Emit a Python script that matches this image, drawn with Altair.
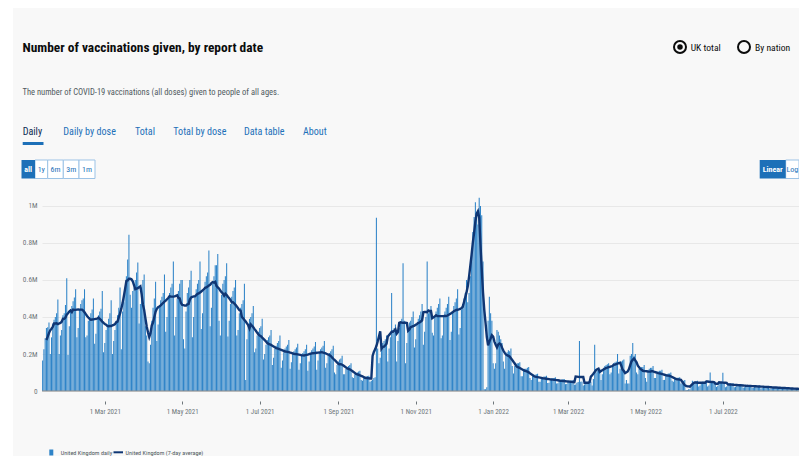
import altair as alt
import pandas as pd

# ---------------- data (daily doses, thousands, by report date) ----------------
FIRST_DAY = "2021-01-11"

doses_2021_q1 = [
    165, 225, 285, 340, 345, 370, 200,
    290, 365, 385, 400, 420, 495, 200,
    300, 330, 410, 420, 465, 610, 195,
    350, 440, 460, 485, 505, 550, 290,
    340, 440, 470, 490, 500, 550, 290,
    300, 380, 400, 420, 440, 500, 255,
    310, 385, 410, 430, 445, 540, 210,
    260, 330, 360, 390, 420, 490, 200,
    270, 330, 380, 410, 450, 560, 225,
    430, 480, 560, 620, 711, 844, 520,
    450, 540, 560, 600, 640, 695, 365,
    470, 560, 600, 630, 350, 300, 160,
]
doses_2021_q2 = [
    150, 250, 380, 450, 500, 590, 270,
    360, 450, 490, 510, 530, 630, 320,
    400, 500, 530, 560, 580, 700, 300,
    400, 500, 540, 580, 600, 600, 280,
    230, 430, 530, 560, 600, 650, 290,
    400, 510, 550, 580, 600, 700, 335,
    420, 540, 590, 620, 640, 760, 350,
    450, 580, 620, 680, 680, 740, 380,
    300, 520, 580, 600, 620, 690, 295,
    380, 470, 510, 540, 560, 600, 300,
    330, 420, 450, 470, 490, 580, 60,
    280, 360, 390, 400, 420, 460, 210,
    230, 300, 320, 340, 350, 390, 170,
]
doses_2021_q3 = [
    200, 250, 275, 290, 300, 330, 140,
    180, 230, 245, 260, 270, 300, 125,
    165, 210, 230, 240, 250, 275, 120,
    155, 200, 215, 225, 235, 255, 115,
    150, 190, 205, 215, 225, 250, 110,
    160, 200, 220, 230, 240, 265, 115,
    165, 205, 225, 235, 245, 270, 125,
    150, 190, 205, 215, 225, 245, 100,
    90, 140, 160, 170, 175, 190, 90,
    90, 120, 130, 135, 140, 150, 75,
    70, 90, 95, 100, 105, 110, 60,
    55, 70, 75, 78, 80, 82, 50,
    55, 60, 70, 75, 937, 230, 150,
]
doses_2021_q4 = [
    180, 230, 260, 270, 280, 300, 160,
    230, 290, 530, 330, 340, 360, 160,
    270, 340, 370, 390, 690, 380, 150,
    260, 340, 370, 380, 400, 430, 235,
    280, 360, 390, 410, 430, 470, 250,
    320, 400, 700, 420, 430, 460, 315,
    300, 400, 430, 450, 470, 500, 285,
    300, 400, 430, 450, 470, 510, 275,
    320, 430, 460, 480, 500, 550, 305,
    340, 440, 470, 500, 530, 600, 480,
    530, 620, 700, 860, 940, 1020, 950,
    900, 1045, 1000, 950, 700, 10, 10,
    20, 380, 510, 420, 380, 150, 120,
]
doses_2022_q1 = [
    150, 330, 320, 300, 280, 260, 160,
    120, 200, 210, 220, 215, 230, 135,
    95, 135, 145, 150, 150, 155, 80,
    80, 110, 120, 120, 125, 130, 70,
    60, 80, 85, 88, 90, 93, 50,
    50, 70, 75, 78, 78, 82, 43,
    45, 62, 68, 70, 70, 75, 40,
    42, 56, 60, 62, 63, 65, 37,
    38, 50, 55, 56, 57, 60, 34,
    35, 45, 48, 270, 50, 52, 30,
    35, 45, 48, 50, 50, 52, 30,
    65, 250, 100, 110, 115, 120, 60,
    90, 125, 135, 140, 145, 150, 90,
]
doses_2022_q2 = [
    100, 140, 150, 155, 160, 200, 95,
    120, 160, 165, 170, 40, 60, 40,
    40, 190, 200, 260, 190, 200, 100,
    90, 120, 125, 130, 130, 140, 70,
    50, 110, 120, 125, 125, 135, 70,
    70, 95, 105, 110, 110, 115, 60,
    60, 85, 90, 95, 95, 100, 55,
    50, 65, 70, 72, 72, 75, 40,
    45, 55, 60, 5, 5, 10, 10,
    30, 55, 50, 52, 52, 55, 25,
    30, 48, 50, 50, 52, 55, 25,
    30, 100, 45, 45, 47, 50, 22,
    28, 42, 43, 44, 98, 45, 20,
]
doses_2022_q3 = [
    25, 38, 40, 40, 40, 42, 20,
    22, 34, 35, 36, 36, 38, 18,
    20, 30, 31, 32, 32, 33, 16,
    18, 27, 28, 29, 29, 30, 14,
    16, 24, 25, 26, 26, 27, 12,
    14, 20, 21, 22, 22, 23, 11,
    12, 17, 18, 19, 19, 20, 9,
    10, 14, 15, 15, 16, 16, 8,
    6, 12, 13, 13, 13, 12, 14,
]

y_ticks = [0, 200000, 400000, 600000, 800000, 1000000]
x_tick_dates = [(2021, 3), (2021, 5), (2021, 7), (2021, 9), (2021, 11),
                (2022, 1), (2022, 3), (2022, 5), (2022, 7)]

daily_k = (doses_2021_q1 + doses_2021_q2 + doses_2021_q3 + doses_2021_q4
           + doses_2022_q1 + doses_2022_q2 + doses_2022_q3)
dates = pd.date_range(FIRST_DAY, periods=len(daily_k), freq="D")
df = pd.DataFrame({"date": dates.strftime("%Y-%m-%dT%H:%M:%S"),
                   "doses": [v * 1000 for v in daily_k]})
one = pd.DataFrame({"k": [0]})

# ---------------- styling ----------------
F = "Roboto Condensed, Roboto, sans-serif"
BAR = "#2f84c8"
LINE = "#0f3674"
BLUE = "#1d70b8"
TEXT = "#0b0c0c"
GREY = "#505a5f"
OX, OY = 42, 195  # page position of plot origin
W, H = 757, 196

x_scale = alt.Scale(domain=[alt.DateTime(year=2021, month=1, date=10, hours=12),
                            alt.DateTime(year=2022, month=8, date=30, hours=0)],
                    padding=0)
y_scale = alt.Scale(domain=[0, 1059459], nice=False, zero=True, padding=0)

x_axis = alt.Axis(values=[alt.DateTime(year=y, month=m, date=1) for y, m in x_tick_dates],
                  format="%-d %b %Y", labelFontSize=7, labelColor="#6f777b", labelFont=F,
                  domain=False, ticks=True, tickSize=3, tickColor="#6f777b", offset=10,
                  labelPadding=3, grid=False, labelOverlap=False, title=None)
y_axis = alt.Axis(values=y_ticks, labelExpr="datum.value == 0 ? '0' : (datum.value / 1000000) + 'M'",
                  labelFontSize=7.3, labelColor="#6f777b", labelFont=F, domain=False, ticks=False,
                  labelPadding=5, grid=True, gridColor="#e8e8e8", gridWidth=1,
                  labelOverlap=False, title=None)

bars = alt.Chart(df).mark_bar(size=1.05, color=BAR).encode(
    x=alt.X("date:T", scale=x_scale, axis=x_axis),
    y=alt.Y("doses:Q", scale=y_scale, axis=y_axis),
)
line = alt.Chart(df).transform_window(
    window=[alt.WindowFieldDef(op="mean", field="doses", **{"as": "avg"}),
            alt.WindowFieldDef(op="count", field="doses", **{"as": "n"})],
    frame=[-3, 3],
).transform_filter("datum.n == 7").mark_line(color=LINE, strokeWidth=2.4).encode(
    x=alt.X("date:T", scale=x_scale, axis=x_axis),
    y=alt.Y("avg:Q", scale=y_scale, axis=y_axis),
)
baseline = alt.Chart(one).mark_rule(color="#8b8b8b", strokeWidth=1.2).encode(
    x=alt.value(0), x2=alt.value(W), y=alt.value(H))


def txt(s, px, py, size, color=TEXT, weight="normal", align="left", base="alphabetic"):
    return alt.Chart(one).mark_text(text=s, font=F, fontSize=size, color=color,
                                    fontWeight=weight, align=align, baseline=base).encode(
        x=alt.value(px - OX), y=alt.value(py - OY))


def box(x1, x2, y1, y2, fill, stroke=None, sw=1):
    kw = dict(fill=fill)
    if stroke:
        kw.update(stroke=stroke, strokeWidth=sw)
    return alt.Chart(one).mark_rect(**kw).encode(
        x=alt.value(x1 - OX), x2=alt.value(x2 - OX), y=alt.value(y1 - OY), y2=alt.value(y2 - OY))


def dot(px, py, size, filled, sw=2):
    kw = dict(shape="circle", size=size, filled=filled, color=TEXT, opacity=1)
    if not filled:
        kw.update(strokeWidth=sw)
    return alt.Chart(one).mark_point(**kw).encode(x=alt.value(px - OX), y=alt.value(py - OY))


ui = [
    box(8, 13, 8, 470, "#ffffff"),
    txt("Number of vaccinations given, by report date", 22.5, 52, 13.4, weight="bold"),
    txt("The number of COVID-19 vaccinations (all doses) given to people of all ages.", 22.5, 95, 8.5, GREY),
    txt("Daily", 22.7, 134.5, 10.1, "#0b2a52"),
    box(22.7, 43.5, 142, 145, BLUE),
    txt("Daily by dose", 63.3, 134.5, 10.1, BLUE),
    txt("Total", 135, 134.5, 10.1, BLUE),
    txt("Total by dose", 173.3, 134.5, 10.1, BLUE),
    txt("Data table", 244, 134.5, 10.1, BLUE),
    txt("About", 303, 134.5, 10.1, BLUE),
    box(35, 47.7, 160, 178.5, "#ffffff", "#9cc3e6"),
    box(47.7, 63.3, 160, 178.5, "#ffffff", "#9cc3e6"),
    box(63.3, 79, 160, 178.5, "#ffffff", "#9cc3e6"),
    box(79, 95, 160, 178.5, "#ffffff", "#9cc3e6"),
    box(21.5, 35, 160, 178.5, BLUE),
    txt("all", 28.2, 169.5, 8, "#ffffff", "bold", "center", "middle"),
    txt("1y", 41.3, 169.5, 8, BLUE, align="center", base="middle"),
    txt("6m", 55.5, 169.5, 8, BLUE, align="center", base="middle"),
    txt("3m", 71.2, 169.5, 8, BLUE, align="center", base="middle"),
    txt("1m", 87, 169.5, 8, BLUE, align="center", base="middle"),
    dot(680, 47, 144, False),
    dot(680, 47, 30, True),
    txt("UK total", 690.7, 51, 9.6),
    dot(744, 47, 144, False),
    txt("By nation", 755, 51, 9.6),
    box(785.7, 799, 160, 178.5, "#ffffff", "#9cc3e6"),
    box(759.7, 785.7, 160, 178.5, BLUE),
    txt("Linear", 772.7, 169.5, 8, "#ffffff", "bold", "center", "middle"),
    txt("Log", 792.3, 169.5, 8, BLUE, align="center", base="middle"),
    box(49.3, 53.3, 449.5, 455.5, BAR),
    txt("United Kingdom daily", 60.7, 454.5, 6.2, GREY),
    alt.Chart(one).mark_rule(color=LINE, strokeWidth=2).encode(
        x=alt.value(113.5 - OX), x2=alt.value(123 - OX), y=alt.value(452.3 - OY)),
    txt("United Kingdom (7-day average)", 125.5, 454.5, 6.2, GREY),
]

chart = alt.layer(*ui[:1], bars, line, baseline, *ui[1:]).properties(
    width=W, height=H,
    padding={"left": 34, "top": 187, "right": 0, "bottom": 65},
    autosize=alt.AutoSizeParams(type="none"),
    background="#f8f8f8",
).configure_view(stroke=None)

chart.save("out.html", embed_options={"renderer": "svg", "actions": False})
